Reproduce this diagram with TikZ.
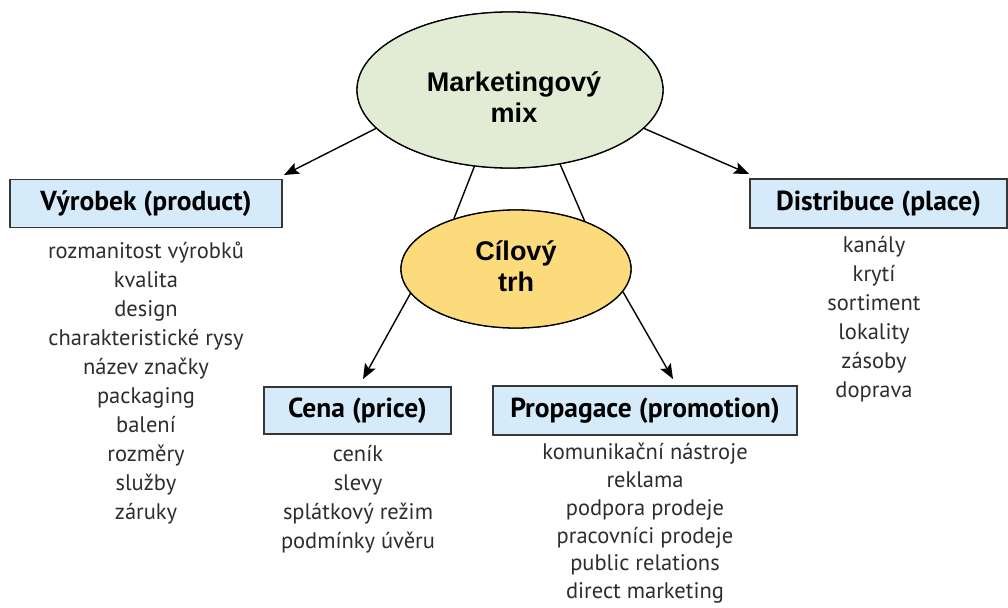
\documentclass[tikz,border=0pt]{standalone}
\usepackage{fontspec}
\setmainfont{PT Sans}
\newfontfamily\arialfont{Liberation Sans}
\usetikzlibrary{shapes.geometric,arrows.meta}
\definecolor{boxblue}{RGB}{214,235,250}
\definecolor{mixgreen}{RGB}{226,236,212}
\definecolor{cilyellow}{RGB}{252,219,125}
\definecolor{listgray}{RGB}{45,45,45}
\definecolor{edgegray}{RGB}{55,55,55}
\begin{document}
\begin{tikzpicture}[x=1pt,y=-1pt,
  ell/.style={ellipse, draw=black, line width=1.3pt, inner sep=0pt},
  elltext/.style={align=center, inner sep=0pt,
    font=\arialfont\bfseries\fontsize{27}{31}\selectfont},
  hbox/.style={draw=edgegray, line width=1.3pt, fill=boxblue, inner sep=0pt,
    font=\bfseries\fontsize{27.5}{30}\selectfont},
  itemlist/.style={align=center, anchor=north, text=listgray, inner sep=0pt,
    font=\fontsize{22.5}{29}\selectfont},
  arr/.style={-{Stealth[length=15pt,width=12pt,inset=3pt]}, line width=1.4pt},
  conn/.style={line width=1.4pt}]
\useasboundingbox (0,0) rectangle (1008,607);

% connectors behind the ellipses
\node[ell, minimum width=306pt, minimum height=156pt] (mixshape) at (510,90) {};
\node[ell, minimum width=230pt, minimum height=118pt] (cilshape) at (516,269) {};
\draw[conn] (mixshape.245) -- (cilshape.141);
\draw[conn] (mixshape.304) -- (cilshape.35);

\node[ell, fill=mixgreen, minimum width=306pt, minimum height=156pt] (mix) at (510,90) {};
\node[elltext] (mixlabel) at (514,97) {Marketingový\\mix};
\node[ell, fill=cilyellow, minimum width=230pt, minimum height=118pt] (cil) at (516,269) {};
\node[elltext] (cillabel) at (516,266) {Cílový\\trh};

% boxes
\node[hbox, minimum width=272pt, minimum height=48pt] (vyr) at (146,203.5) {Výrobek (product)};
\node[hbox, minimum width=257pt, minimum height=49pt] (dis) at (878.5,203.5) {Distribuce (place)};
\node[hbox, minimum width=187pt, minimum height=47pt] (cena) at (357.5,410.5) {Cena (price)};
\node[hbox, minimum width=304pt, minimum height=49pt] (prop) at (645,410.5) {Propagace (promotion)};

% arrow tips
\coordinate (tvyr) at (284,175);
\coordinate (tdis) at (749,174);
\coordinate (tcena) at (363,379);
\coordinate (tprop) at (673,379);

\draw[arr] (mix.196) -- (tvyr);
\draw[arr] (mix.344) -- (tdis);
\draw[arr] (cil.193) -- (tcena);
\draw[arr] (cil.348) -- (tprop);

% lists
\node[itemlist] (lvyr) at (146,242) {rozmanitost výrobků\\kvalita\\design\\charakteristické rysy\\název značky\\packaging\\balení\\rozměry\\služby\\záruky};
\node[itemlist] (ldis) at (874,236) {kanály\\krytí\\sortiment\\lokality\\zásoby\\doprava};
\node[itemlist] (lcena) at (358,445) {ceník\\slevy\\splátkový režim\\podmínky úvěru};
\node[itemlist, font=\fontsize{22.5}{27.8}\selectfont] (lprop) at (645,443) {komunikační nástroje\\reklama\\podpora prodeje\\pracovníci prodeje\\public relations\\direct marketing};
\end{tikzpicture}
\end{document}
